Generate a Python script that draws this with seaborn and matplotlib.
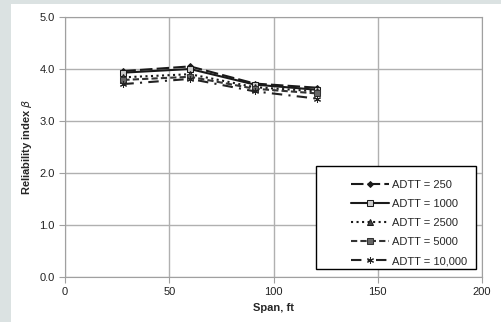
import pandas as pd
import matplotlib
matplotlib.use("Agg")
import matplotlib.pyplot as plt
import seaborn as sns
from matplotlib.patches import Rectangle

# Valores
span = [28, 60, 91, 121]
adtt_labels = ["ADTT = 250", "ADTT = 1000", "ADTT = 2500", "ADTT = 5000", "ADTT = 10,000"]
beta_250 = [3.96, 4.05, 3.72, 3.64]
beta_1000 = [3.93, 4.00, 3.70, 3.60]
beta_2500 = [3.84, 3.90, 3.65, 3.57]
beta_5000 = [3.79, 3.85, 3.62, 3.53]
beta_10000 = [3.71, 3.81, 3.57, 3.43]

series = [beta_250, beta_1000, beta_2500, beta_5000, beta_10000]
df = pd.concat([pd.DataFrame({"Span": span, "Beta": vals, "ADTT": lab})
                for lab, vals in zip(adtt_labels, series)], ignore_index=True)

sns.set_style("white")
plt.rcParams["font.family"] = ["Liberation Sans", "DejaVu Sans"]

fig = plt.figure(figsize=(5.01, 3.22), dpi=100)
fig.patch.set_facecolor("#dbe2e2")
fig.patches.append(Rectangle((11 / 501, 0), 1, (322 - 4) / 322, transform=fig.transFigure,
                             facecolor="white", edgecolor="none", zorder=-5))
ax = fig.add_axes([65 / 501, 45 / 322, 417 / 501, 260 / 322])
ax.set_zorder(2)

estilos = {
    "ADTT = 250": dict(linestyle=(0, (6, 2)), marker="D", markersize=3, color="#1a1a1a", mfc="#1a1a1a"),
    "ADTT = 1000": dict(linestyle="-", marker="s", markersize=4, color="#1a1a1a", mfc="#cccccc"),
    "ADTT = 2500": dict(linestyle=":", marker="^", markersize=4, color="#1a1a1a", mfc="#444444"),
    "ADTT = 5000": dict(linestyle=(0, (3, 1.5)), marker="s", markersize=4, color="#333333", mfc="#666666"),
    "ADTT = 10,000": dict(linestyle=(0, (5, 3, 1, 3)), marker=(6, 2, 0), markersize=5, color="#222222", mfc="#888888"),
}

for lab in adtt_labels:
    st = estilos[lab]
    sns.lineplot(data=df[df["ADTT"] == lab], x="Span", y="Beta", ax=ax, label=lab,
                 linestyle=st["linestyle"], marker=st["marker"], markersize=st["markersize"],
                 color=st["color"], markerfacecolor=st["mfc"], markeredgecolor=st["color"],
                 linewidth=1.5)

ax.set_xlim(0, 200)
ax.set_ylim(0, 5)
ax.set_xticks([0, 50, 100, 150, 200])
ax.set_yticks([0, 1, 2, 3, 4, 5])
ax.set_yticklabels([f"{v:.1f}" for v in [0, 1, 2, 3, 4, 5]])
ax.grid(True, color="#b0b0b0", linewidth=1)
for s in ax.spines.values():
    s.set_color("#a0a0a0")
ax.tick_params(axis="both", length=4, color="#a0a0a0", labelsize=8, labelcolor="#222222", direction="out",
               left=True, bottom=True)
ax.set_xlabel("Span, ft", fontsize=8, fontweight="bold")
ax.set_ylabel(r"Reliability index $\beta$", fontsize=8, fontweight="bold")

# marco de la leyenda
ax.add_patch(Rectangle((0.602, 0.031), 0.384, 0.396, transform=ax.transAxes,
                       facecolor="white", edgecolor="black", linewidth=1, zorder=4))
leg = ax.legend(loc="center", bbox_to_anchor=(0.825, 0.208), frameon=False,
                fontsize=8, handlelength=3.4, labelspacing=0.82,
                borderpad=0, borderaxespad=0, handletextpad=0.3)
leg.set_zorder(5)

fig.savefig("out.png", dpi=100, facecolor=fig.get_facecolor())
